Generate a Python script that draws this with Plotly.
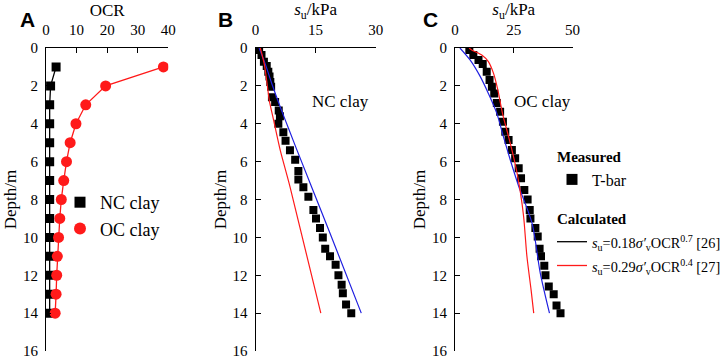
import plotly.graph_objects as go

# ---------------- data ----------------
depth_A = [1, 2, 3, 4, 5, 6, 7, 8, 9, 10, 11, 12, 13, 14]
ocr_nc = [3.3, 1.5, 1.2, 1.2, 1.2, 1.2, 1.2, 1.2, 1.2, 1.2, 1.2, 1.2, 1.2, 1.2]
ocr_oc = [38.4, 19.5, 13.0, 9.8, 7.9, 6.7, 5.8, 5.0, 4.5, 4.1, 3.7, 3.5, 3.3, 3.0]

depth_B = [0.1, 0.37, 0.72, 0.95, 1.25, 1.5, 1.8, 2.05, 2.6, 2.85, 3.3, 3.6, 4.0, 4.45,
           4.9, 5.4, 5.9, 6.5, 6.95, 7.35, 7.85, 8.55, 9.0, 9.5, 10.0, 10.6, 11.0, 11.45,
           12.0, 12.5, 12.95, 13.55, 14.0]
su_B = [0.9, 1.5, 2.1, 2.8, 3.2, 3.5, 3.7, 3.9, 4.1, 4.9, 5.8, 6.1, 5.7, 6.95,
        7.5, 8.6, 9.9, 10.7, 10.7, 11.95, 13.2, 14.45, 15.1, 16.1, 16.8, 17.4, 18.6, 20.0,
        20.7, 21.5, 21.8, 22.6, 23.9]
calc26_B_depth = [0, 0.85, 1.9, 3.13, 4.28, 5.42, 9.78, 14.0]
calc26_B_su = [0.9, 2.45, 4.1, 6.2, 8.3, 10.4, 18.6, 26.4]
calc27_B_depth = [0, 0.85, 1.9, 2.78, 3.84, 5.42, 7.32, 14.0]
calc27_B_su = [1.2, 2.2, 2.9, 3.45, 4.55, 6.2, 8.6, 16.3]

depth_C = [0.1, 0.37, 0.63, 0.85, 1.25, 1.69, 2.04, 2.4, 2.9, 3.36, 3.9, 4.42, 4.86, 5.39,
           5.82, 6.35, 6.88, 7.5, 8.0, 8.55, 9.0, 9.5, 9.96, 10.6, 11.0, 11.5, 12.0, 12.6,
           13.0, 13.6, 14.0]
su_C = [6.1, 7.8, 10.0, 11.8, 13.5, 14.7, 15.7, 16.7, 17.8, 19.2, 20.4, 21.4, 22.8, 24.2,
        25.6, 27.1, 28.1, 29.5, 30.9, 31.8, 32.1, 34.2, 35.2, 36.0, 36.6, 38.0, 38.5, 39.9,
        42.0, 43.2, 44.9]
calc26_C_depth = [0, 0.63, 1.5, 2.4, 3.45, 4.68, 5.9, 7.3, 9.26, 11.9, 14.0]
calc26_C_su = [2.1, 6.4, 10.7, 14.2, 17.8, 20.6, 23.5, 27.1, 32.8, 36.3, 40.2]
calc27_C_depth = [0, 0.1, 0.37, 0.72, 1.34, 2.2, 3.45, 4.68, 5.74, 6.6, 7.6, 8.9, 11.0, 12.8, 14.0]
calc27_C_su = [6.0, 7.1, 11.4, 14.2, 16.4, 18.2, 20.2, 22.8, 24.9, 26.4, 27.8, 29.2, 30.6, 32.4, 33.5]

ticks_A = [0, 10, 20, 30, 40]
ticks_B = [0, 15, 30]
ticks_C = [0, 25, 50]
ticks_depth = [0, 2, 4, 6, 8, 10, 12, 14, 16]

# ---------------- styling ----------------
W, H = 726, 362
SERIF = "Liberation Serif"
SANS = "Liberation Sans"
BLUE = "#2020e0"
RED = "#ff1a1a"


def px(xp):
    return xp / W


def py(yp):
    return 1 - yp / H


ydom = [py(351), py(48)]

fig = go.Figure()

# Panel A
fig.add_trace(go.Scatter(x=ocr_nc, y=depth_A, mode="lines+markers", xaxis="x", yaxis="y",
                         line=dict(color="black", width=1.3),
                         marker=dict(symbol="square", size=9, color="black"), showlegend=False))
fig.add_trace(go.Scatter(x=ocr_oc, y=depth_A, mode="lines+markers", xaxis="x", yaxis="y",
                         line=dict(color=RED, width=1.3),
                         marker=dict(symbol="circle", size=11, color=RED), showlegend=False))
fig.add_trace(go.Scatter(x=[None], y=[None], mode="markers", xaxis="x", yaxis="y", name="NC clay",
                         marker=dict(symbol="square", size=11, color="black"), legend="legend"))
fig.add_trace(go.Scatter(x=[None], y=[None], mode="markers", xaxis="x", yaxis="y", name="OC clay",
                         marker=dict(symbol="circle", size=12, color=RED), legend="legend"))

# Panel B
fig.add_trace(go.Scatter(x=su_B, y=depth_B, mode="markers", xaxis="x2", yaxis="y2",
                         marker=dict(symbol="square", size=8, color="black"), showlegend=False))
fig.add_trace(go.Scatter(x=calc26_B_su, y=calc26_B_depth, mode="lines", xaxis="x2", yaxis="y2",
                         line=dict(color=BLUE, width=1.2, shape="spline", smoothing=0.6), showlegend=False))
fig.add_trace(go.Scatter(x=calc27_B_su, y=calc27_B_depth, mode="lines", xaxis="x2", yaxis="y2",
                         line=dict(color=RED, width=1.2, shape="spline", smoothing=0.6), showlegend=False))

# Panel C
fig.add_trace(go.Scatter(x=su_C, y=depth_C, mode="markers", xaxis="x3", yaxis="y3",
                         marker=dict(symbol="square", size=8, color="black"), showlegend=False))
fig.add_trace(go.Scatter(x=calc26_C_su, y=calc26_C_depth, mode="lines", xaxis="x3", yaxis="y3",
                         line=dict(color=BLUE, width=1.2, shape="spline", smoothing=0.8), showlegend=False))
fig.add_trace(go.Scatter(x=calc27_C_su, y=calc27_C_depth, mode="lines", xaxis="x3", yaxis="y3",
                         line=dict(color=RED, width=1.2, shape="spline", smoothing=0.8), showlegend=False))

# Legend entries for panel C
FS = '<span style="font-size:14.3px">'
fig.add_trace(go.Scatter(x=[None], y=[None], mode="markers", xaxis="x3", yaxis="y3", name="T-bar",
                         marker=dict(symbol="square", size=11, color="black"),
                         legend="legend2", legendgroup="m", legendgrouptitle_text="<b>Measured</b>"))
fig.add_trace(go.Scatter(x=[None], y=[None], mode="lines", xaxis="x3", yaxis="y3",
                         name=FS + "<i>s</i><sub>u</sub>=0.18<i>σ′</i><sub>v</sub>OCR<sup>0.7</sup> [26]</span>",
                         line=dict(color="black", width=1.3),
                         legend="legend2", legendgroup="c", legendgrouptitle_text="<b>Calculated</b>"))
fig.add_trace(go.Scatter(x=[None], y=[None], mode="lines", xaxis="x3", yaxis="y3",
                         name=FS + "<i>s</i><sub>u</sub>=0.29<i>σ′</i><sub>v</sub>OCR<sup>0.4</sup> [27]</span>",
                         line=dict(color=RED, width=1.3),
                         legend="legend2", legendgroup="c"))

common_x = dict(side="top", showline=True, linecolor="black", linewidth=1.2, ticks="inside",
                ticklen=5, tickwidth=1.2, tickcolor="black", showgrid=False, zeroline=False,
                automargin=False, ticklabelstandoff=6,
                tickfont=dict(family=SERIF, size=15, color="black"), fixedrange=True)
common_y = dict(showline=True, linecolor="black", linewidth=1.2, ticks="inside", ticklen=5,
                tickwidth=1.2, tickcolor="black", showgrid=False, zeroline=False,
                automargin=False, ticklabelstandoff=4,
                range=[16, 0], tickvals=ticks_depth, domain=ydom,
                tickfont=dict(family=SERIF, size=15, color="black"),
                title=dict(text="Depth/m", font=dict(family=SERIF, size=17, color="black"), standoff=1),
                fixedrange=True)

fig.update_layout(
    width=W, height=H, margin=dict(l=0, r=0, t=0, b=0, autoexpand=False),
    paper_bgcolor="white", plot_bgcolor="white",
    xaxis=dict(common_x, domain=[px(46), px(168.3)], range=[0, 40], tickvals=ticks_A, anchor="y",
               title=dict(text="OCR", font=dict(family=SERIF, size=17, color="black"), standoff=0)),
    yaxis=dict(common_y, anchor="x"),
    xaxis2=dict(common_x, domain=[px(255.5), px(375.7)], range=[0, 30], tickvals=ticks_B, anchor="y2",
                title=dict(text="<i>s</i><sub>u</sub>/kPa", font=dict(family=SERIF, size=17, color="black"), standoff=0)),
    yaxis2=dict(common_y, anchor="x2"),
    xaxis3=dict(common_x, domain=[px(455), px(572.5)], range=[0, 50], tickvals=ticks_C, anchor="y3",
                title=dict(text="<i>s</i><sub>u</sub>/kPa", font=dict(family=SERIF, size=17, color="black"), standoff=0)),
    yaxis3=dict(common_y, anchor="x3"),
    legend=dict(x=px(60), y=py(184), xanchor="left", yanchor="top", bgcolor="rgba(0,0,0,0)",
                font=dict(family=SERIF, size=18, color="black"), tracegroupgap=0),
    legend2=dict(x=px(552), y=py(140), xanchor="left", yanchor="top", bgcolor="rgba(0,0,0,0)",
                 font=dict(family=SERIF, size=16, color="black"), tracegroupgap=16,
                 grouptitlefont=dict(family=SERIF, size=15, color="black")),
    annotations=[
        dict(text="<b>A</b>", x=px(27), y=py(19), xref="paper", yref="paper", showarrow=False,
             xanchor="center", yanchor="middle", font=dict(family=SANS, size=21, color="black")),
        dict(text="<b>B</b>", x=px(225), y=py(19), xref="paper", yref="paper", showarrow=False,
             xanchor="center", yanchor="middle", font=dict(family=SANS, size=21, color="black")),
        dict(text="<b>C</b>", x=px(430), y=py(19), xref="paper", yref="paper", showarrow=False,
             xanchor="center", yanchor="middle", font=dict(family=SANS, size=21, color="black")),
        dict(text="NC clay", x=21.1, y=2.8, xref="x2", yref="y2", showarrow=False,
             font=dict(family=SERIF, size=17, color="black")),
        dict(text="OC clay", x=37.2, y=2.85, xref="x3", yref="y3", showarrow=False,
             font=dict(family=SERIF, size=17, color="black")),
    ],
)

fig.write_html("out.html", config={"displayModeBar": False},
               post_script="document.body.style.margin='0';")
